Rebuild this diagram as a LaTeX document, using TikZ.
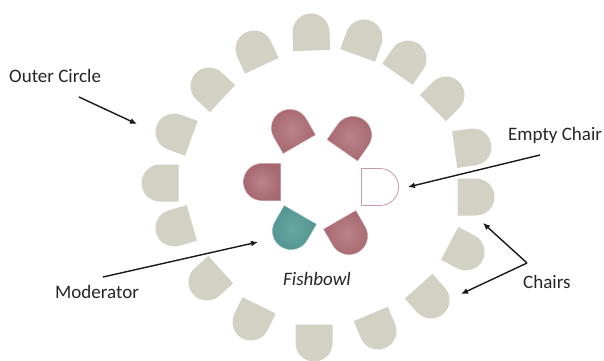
\documentclass[tikz,border=0pt]{standalone}
\usepackage{fontspec}
\setmainfont{Carlito}
\usetikzlibrary{arrows.meta}
\definecolor{outerc}{HTML}{D3D1C4}
\definecolor{redin}{HTML}{BA838A}
\definecolor{redout}{HTML}{A76870}
\definecolor{redline}{HTML}{C49499}
\definecolor{tealin}{HTML}{68A8A3}
\definecolor{tealout}{HTML}{539490}
\definecolor{emptyc}{HTML}{C99AA3}
\newcommand\chairD[4]{%
  \path[#4, shift={({#1},{360-#2})}, rotate=#3, scale=18.5]
    (-1,-1) -- (0,-1) arc[start angle=-90,end angle=90,radius=1] -- (-1,1) -- cycle;}
\tikzset{
  outerchair/.style={fill=outerc},
  redchair/.style={shade, inner color=redin, outer color=redout, draw=redline, line width=0.5pt},
  tealchair/.style={shade, inner color=tealin, outer color=tealout, draw=tealin!80!white, line width=0.5pt},
  emptychair/.style={fill=white, draw=emptyc, line width=0.8pt},
  lbl/.style={font=\fontsize{19}{23}\selectfont, text=black!85, inner sep=0pt, anchor=base west},
  pointer/.style={draw=black!90, line width=1.4pt, -{Latex[length=7pt,width=6pt]}}
}
\begin{document}
\begin{tikzpicture}[x=1pt,y=1pt]
\fill[white] (0,0) rectangle (604,360);
\useasboundingbox (0,0) rectangle (604,360);
% outer circle of chairs
\foreach \px/\py/\a in {311/32/92, 364/38/70, 408/59/55, 446/95/45, 473/147/8,
  476/197/0, 466/252/-28, 431/300/-48, 378/331/-67, 314/343/-90, 251/322/-116,
  207/282/-138, 174/228/-164, 160/183/180, 174/132/160, 209/86/137, 254/49/115}
  {\chairD{\px}{\py}{\a}{outerchair}}
% inner circle
\chairD{290}{128}{120}{redchair}
\chairD{353}{135}{55}{redchair}
\chairD{262}{182}{180}{redchair}
\chairD{380}{187}{0}{emptychair}
\chairD{291}{231}{-120}{tealchair}
\chairD{349}{236}{-60}{redchair}
% labels
\node[lbl] (outer) at (9,278) {Outer Circle};
\node[lbl] (empty) at (508,220) {Empty Chair};
\node[lbl] (chairs) at (523,72) {Chairs};
\node[lbl] (moder) at (55,62) {Moderator};
\node[lbl, font=\fontsize{19}{23}\selectfont\itshape] (fish) at (283,75) {Fishbowl};
% arrow coordinates
\coordinate (oS) at (79,263);
\coordinate (oT) at (137,236);
\coordinate (eS) at (540,205);
\coordinate (eT) at (408,173);
\coordinate (mS) at (103,83);
\coordinate (mT) at (258,118);
\coordinate (cS) at (527,97);
\coordinate (cT1) at (483,137);
\coordinate (cT2) at (461,66);
\draw[pointer] (oS) -- (oT);
\draw[pointer] (eS) -- (eT);
\draw[pointer] (mS) -- (mT);
\draw[pointer] (cS) -- (cT1);
\draw[pointer] (cS) -- (cT2);
\end{tikzpicture}
\end{document}
